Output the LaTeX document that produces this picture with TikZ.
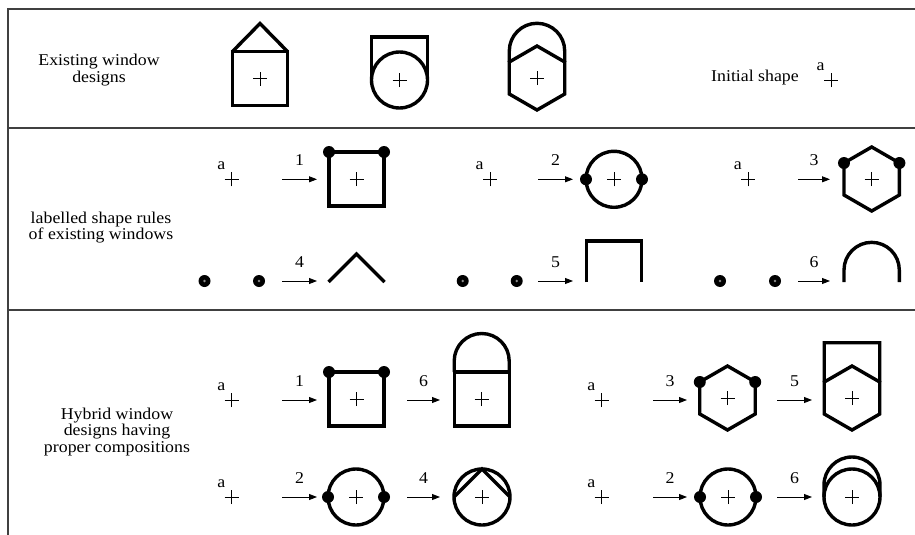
\documentclass[tikz,border=0pt]{standalone}
\usepackage{fontspec}
\setmainfont{Liberation Serif}[FakeStretch=1.08]
\usetikzlibrary{arrows.meta,positioning}

\begin{document}
\begin{tikzpicture}[
    x=1pt, y=1pt,
    font=\fontsize{16.5}{16.8}\selectfont,
    frameline/.style={draw=black!75, line width=1.2pt},
    winline/.style={draw=black, line width=3.4pt},
    crossline/.style={draw=black, line width=0.8pt},
    rulearrow/.style={-{Triangle[length=8pt,width=6pt]}, line width=0.9pt},
    numlbl/.style={midway, above=13pt, inner sep=0pt},
    letter/.style={inner sep=0pt},
    caption/.style={align=center, inner sep=0pt},
    crossmark/.pic={\draw[crossline] (-7,0) -- (7,0) (0,-7) -- (0,7);},
    initshape/.pic={\pic {crossmark}; \node[letter] (-a) at (-10.4,13.3) {a};},
    seeddot/.pic={\fill (0,0) circle (6); \fill[black!45] (0,0) circle (1.4);},
    squarewin/.pic={\draw[winline] (-27.5,-27) rectangle (27.5,27); \pic {crossmark};},
    circlewin/.pic={\draw[winline] (0,0) circle (28); \pic {crossmark};},
    hexwin/.pic={\draw[winline] (90:32) -- (150:32) -- (210:32) -- (270:32) -- (330:32) -- (30:32) -- cycle; \pic {crossmark};},
    dotsquare/.pic={\pic {squarewin}; \fill (-27.5,27) circle (6) (27.5,27) circle (6);},
    dotcircle/.pic={\pic {circlewin}; \fill (-28,0) circle (6) (28,0) circle (6);},
    dothex/.pic={\pic {hexwin}; \fill (150:32) circle (6) (30:32) circle (6);},
    roofwin/.pic={\pic {squarewin}; \draw[winline] (-27.5,27) -- (0,55) -- (27.5,27);},
    archsquarewin/.pic={\pic {squarewin}; \draw[winline] (-27.5,27) -- (-27.5,38) arc (180:0:27.5) -- (27.5,27);},
    boxcirclewin/.pic={\pic {circlewin}; \draw[winline] (-28,0) -- (-28,43) -- (28,43) -- (28,0);},
    chevcirclewin/.pic={\pic {circlewin}; \draw[winline] (-28,0) -- (0,28) -- (28,0);},
    archcirclewin/.pic={\pic {circlewin}; \draw[winline] (-28,0) -- (-28,12) arc (180:0:28) -- (28,0);},
    archhexwin/.pic={\pic {hexwin}; \draw[winline] (150:32) -- ++(0,11) arc (180:0:27.71) -- (30:32);},
    boxhexwin/.pic={\pic {hexwin}; \draw[winline] (150:32) -- ++(0,39.3) -- ++(55.42,0) -- (30:32);}
]
\useasboundingbox (0,0) rectangle (915,-535);

% Table frame
\draw[frameline] (915,-9) -- (8,-9) -- (8,-535);
\draw[frameline] (8,-128) -- (915,-128);
\draw[frameline] (8,-310) -- (915,-310);

% Row captions
\node[caption] (exist) at (99,-70) {Existing window\\designs};
\node[caption] (rules) at (101,-227.5) {labelled shape rules\\of existing windows};
\node[caption] (hybrid) at (117,-432) {Hybrid window\\designs having\\proper compositions};

% Existing window designs
\pic at (260,-78.5) {roofwin};
\pic at (399.5,-80) {boxcirclewin};
\pic at (537,-78) {archhexwin};
\node[anchor=base west, inner sep=0pt] (initial) at (711,-81.7) {Initial shape};
\pic (init0) at (831,-80) {initshape};

% Labelled shape rules
\pic (init1) at (231.7,-179.3) {initshape};
\coordinate (rule1a) at (282,-179.3); \coordinate (rule1b) at (317,-179.3);
\draw[rulearrow] (rule1a) -- node[numlbl] (num1) {1} (rule1b);
\pic at (356.5,-179) {dotsquare};

\pic (init2) at (490,-179.3) {initshape};
\coordinate (rule2a) at (538,-179.3); \coordinate (rule2b) at (573,-179.3);
\draw[rulearrow] (rule2a) -- node[numlbl] (num2) {2} (rule2b);
\pic at (614,-179.3) {dotcircle};

\pic (init3) at (748.3,-179.3) {initshape};
\coordinate (rule3a) at (798,-179.3); \coordinate (rule3b) at (830,-179.3);
\draw[rulearrow] (rule3a) -- node[numlbl] (num3) {3} (rule3b);
\pic at (871.7,-179) {dothex};

\pic at (204.5,-281) {seeddot};
\pic at (259,-281) {seeddot};
\coordinate (rule4a) at (282,-281); \coordinate (rule4b) at (317,-281);
\draw[rulearrow] (rule4a) -- node[numlbl] (num4) {4} (rule4b);
\draw[winline] (328.5,-282) -- (356.5,-254) -- (384.5,-282);

\pic at (462.7,-281) {seeddot};
\pic at (516.7,-281) {seeddot};
\coordinate (rule5a) at (538,-281); \coordinate (rule5b) at (573,-281);
\draw[rulearrow] (rule5a) -- node[numlbl] (num5) {5} (rule5b);
\draw[winline] (586.5,-282) -- (586.5,-241) -- (641.5,-241) -- (641.5,-282);

\pic at (720,-281) {seeddot};
\pic at (775,-281) {seeddot};
\coordinate (rule6a) at (798,-281); \coordinate (rule6b) at (830,-281);
\draw[rulearrow] (rule6a) -- node[numlbl] (num6) {6} (rule6b);
\draw[winline] (844,-282) -- (844,-270) arc (180:0:27.65) -- (899.3,-282);

% Hybrid window designs
\pic (init4) at (231.7,-400) {initshape};
\coordinate (mixA1a) at (282,-400); \coordinate (mixA1b) at (317,-400);
\draw[rulearrow] (mixA1a) -- node[numlbl] (num7) {1} (mixA1b);
\pic at (356.5,-399) {dotsquare};
\coordinate (mixA2a) at (407,-400); \coordinate (mixA2b) at (440,-400);
\draw[rulearrow] (mixA2a) -- node[numlbl] (num8) {6} (mixA2b);
\pic at (481.7,-399) {archsquarewin};

\pic (init5) at (601.7,-400) {initshape};
\coordinate (mixB1a) at (653,-400); \coordinate (mixB1b) at (687,-400);
\draw[rulearrow] (mixB1a) -- node[numlbl] (num9) {3} (mixB1b);
\pic at (727.5,-398) {dothex};
\coordinate (mixB2a) at (777,-400); \coordinate (mixB2b) at (812,-400);
\draw[rulearrow] (mixB2a) -- node[numlbl] (num10) {5} (mixB2b);
\pic at (852,-398) {boxhexwin};

\pic (init6) at (231.7,-497) {initshape};
\coordinate (mixC1a) at (282,-497); \coordinate (mixC1b) at (317,-497);
\draw[rulearrow] (mixC1a) -- node[numlbl] (num11) {2} (mixC1b);
\pic at (356,-497) {dotcircle};
\coordinate (mixC2a) at (407,-497); \coordinate (mixC2b) at (440,-497);
\draw[rulearrow] (mixC2a) -- node[numlbl] (num12) {4} (mixC2b);
\pic at (482,-497) {chevcirclewin};

\pic (init7) at (601.7,-497) {initshape};
\coordinate (mixD1a) at (653,-497); \coordinate (mixD1b) at (687,-497);
\draw[rulearrow] (mixD1a) -- node[numlbl] (num13) {2} (mixD1b);
\pic at (728,-497) {dotcircle};
\coordinate (mixD2a) at (777,-497); \coordinate (mixD2b) at (812,-497);
\draw[rulearrow] (mixD2a) -- node[numlbl] (num14) {6} (mixD2b);
\pic at (852,-497) {archcirclewin};

\end{tikzpicture}
\end{document}
